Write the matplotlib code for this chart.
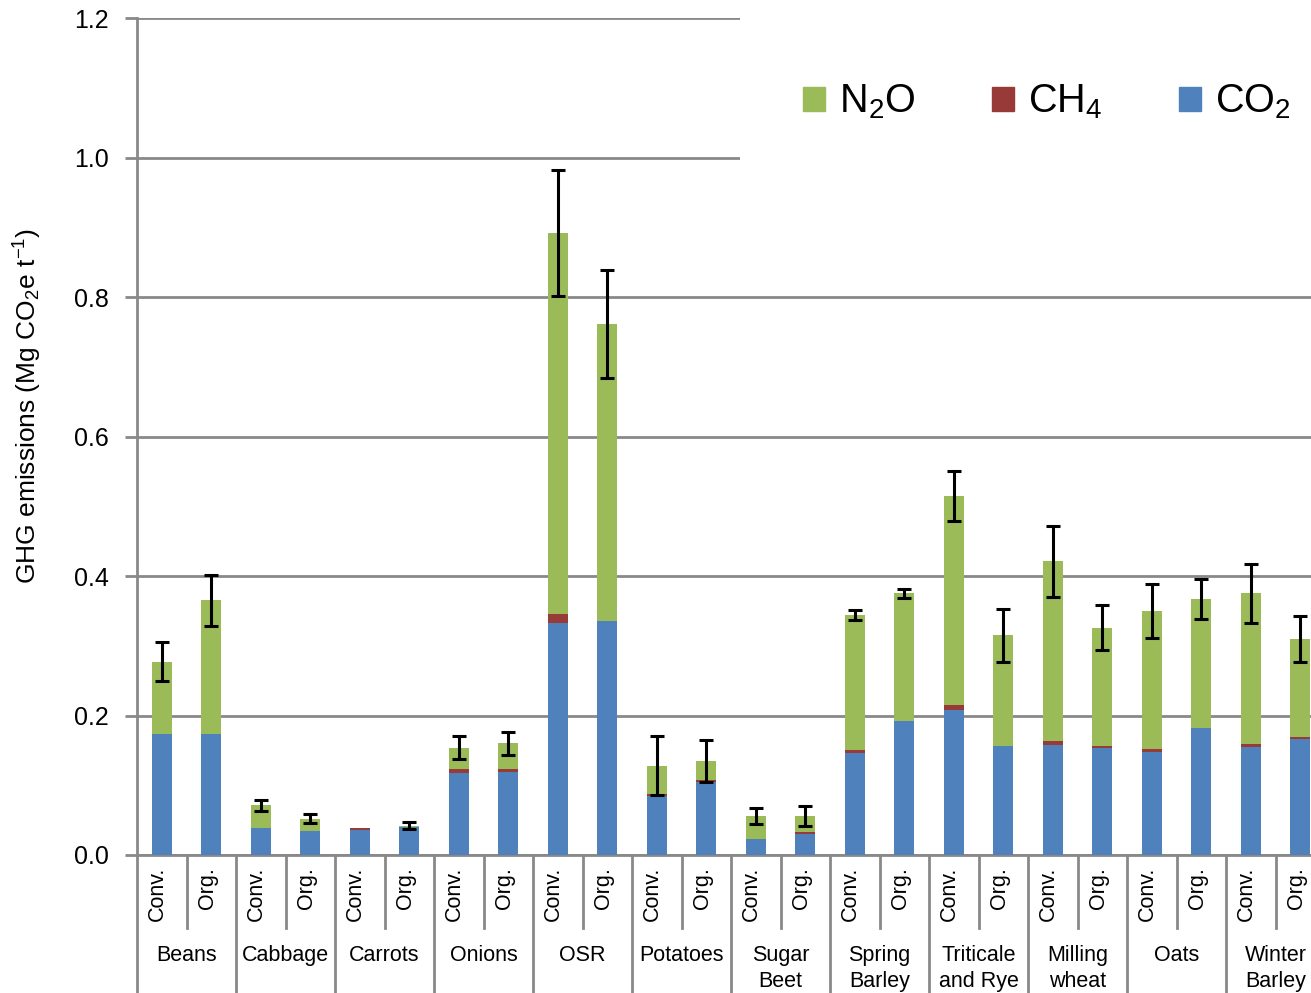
import matplotlib
matplotlib.use("Agg")
import matplotlib.pyplot as plt
import matplotlib.transforms as mtransforms
from matplotlib.patches import Patch, Rectangle
import numpy as np

plt.rcParams['font.family'] = ['Liberation Sans', 'DejaVu Sans']
plt.rcParams['mathtext.fontset'] = 'custom'
plt.rcParams['mathtext.rm'] = 'Liberation Sans'
plt.rcParams['mathtext.it'] = 'Liberation Sans:italic'
plt.rcParams['mathtext.bf'] = 'Liberation Sans:bold'

# crops, each with a conventional and an organic bar
crops = ["Beans", "Cabbage", "Carrots", "Onions", "OSR", "Potatoes",
         "Sugar\nBeet", "Spring\nBarley", "Triticale\nand Rye",
         "Milling\nwheat", "Oats", "Winter\nBarley"]
systems = ["Conv.", "Org."]

# Mg CO2e per tonne, ordered Conv./Org. for each crop
co2 = [0.173, 0.173, 0.039, 0.035, 0.036, 0.040, 0.117, 0.119,
       0.333, 0.336, 0.085, 0.104, 0.023, 0.030, 0.146, 0.192,
       0.208, 0.156, 0.158, 0.154, 0.148, 0.1825, 0.155, 0.166]
ch4 = [0.0, 0.0, 0.0, 0.0, 0.002, 0.0, 0.006, 0.004,
       0.013, 0.0, 0.003, 0.0035, 0.0, 0.003, 0.004, 0.0,
       0.007, 0.0, 0.005, 0.002, 0.0035, 0.0, 0.0045, 0.003]
n2o = [0.104, 0.192, 0.032, 0.017, 0.0, 0.002, 0.031, 0.037,
       0.546, 0.425, 0.040, 0.0275, 0.033, 0.023, 0.194, 0.183,
       0.300, 0.159, 0.258, 0.170, 0.1985, 0.1845, 0.2155, 0.140]
err = [0.028, 0.037, 0.008, 0.0065, 0.0, 0.005, 0.016, 0.017,
       0.090, 0.077, 0.042, 0.030, 0.012, 0.014, 0.007, 0.007,
       0.036, 0.038, 0.051, 0.032, 0.039, 0.028, 0.042, 0.033]

c_co2 = "#4F81BD"
c_ch4 = "#983A37"
c_n2o = "#9BBB59"
grey = "#898989"

co2 = np.array(co2)
ch4 = np.array(ch4)
n2o = np.array(n2o)
total = co2 + ch4 + n2o
x = np.arange(len(co2))

W, H = 1311, 993
fig = plt.figure(figsize=(W / 100, H / 100), dpi=100)
# plot area runs a little past the right edge of the figure
left, right, bottom, top = 137, 1325, 855, 18
ax = fig.add_axes([left / W, 1 - bottom / H, (right - left) / W, (bottom - top) / H])

bw = 0.4
ax.bar(x, co2, bw, color=c_co2, zorder=3)
ax.bar(x, ch4, bw, bottom=co2, color=c_ch4, zorder=3)
ax.bar(x, n2o, bw, bottom=co2 + ch4, color=c_n2o, zorder=3)
has_err = np.array(err) > 0
ax.errorbar(x[has_err], total[has_err], yerr=np.array(err)[has_err], fmt="none",
            ecolor="black", elinewidth=2.2, capsize=4.8, capthick=2.2, zorder=4)

ax.set_xlim(-0.5, len(co2) - 0.5)
ax.set_ylim(0, 1.2)
ax.set_yticks(np.arange(0, 1.21, 0.2))
ax.set_yticklabels([f"{v:.1f}" for v in np.arange(0, 1.21, 0.2)])
ax.set_xticks([])
ax.tick_params(axis="y", length=9, width=2, color=grey, labelsize=18, pad=11)
ax.yaxis.grid(True, color=grey, linewidth=2, zorder=0)
ax.set_axisbelow(True)
for s in ["top", "right"]:
    ax.spines[s].set_visible(False)
for s in ["left", "bottom"]:
    ax.spines[s].set_color(grey)
    ax.spines[s].set_linewidth(2)

# white panel behind the legend hides the upper grid lines
ax.add_patch(Rectangle((11.68, 0.9), 13, 0.4, facecolor="white", edgecolor="none",
                       zorder=1, clip_on=False))

# two-level category axis
trans = mtransforms.blended_transform_factory(ax.transData, ax.transAxes)
ax_h = bottom - top
short = -(928 - bottom) / ax_h
longer = -(H - bottom + 5) / ax_h
for i in range(len(crops) + 1):
    ax.plot([2 * i - 0.5] * 2, [0, longer], color=grey, lw=2,
            transform=trans, clip_on=False)
for i in range(len(crops)):
    ax.plot([2 * i + 0.5] * 2, [0, short], color=grey, lw=2,
            transform=trans, clip_on=False)
    for j, s in enumerate(systems):
        ax.text(2 * i + j - 0.08, -(867 - bottom) / ax_h, s, rotation=90,
                ha="center", va="top", fontsize=15.5, transform=trans)
    ax.text(2 * i + 0.5, -(945 - bottom) / ax_h, crops[i], ha="center",
            va="top", fontsize=15.5, linespacing=1.3, transform=trans)

fig.text(28 / W, 1 - 406 / H, r"GHG emissions (Mg CO$_2$e t$^{-1}$)",
         rotation=90, ha="center", va="center", fontsize=19)

handles = [Patch(color=c_n2o), Patch(color=c_ch4), Patch(color=c_co2)]
labels = [r"N$_2$O", r"CH$_4$", r"CO$_2$"]
fig.legend(handles, labels, loc="center left", ncol=3,
           bbox_to_anchor=(803 / W, 1 - 102 / H), frameon=False,
           fontsize=28.5, handlelength=0.55, handleheight=0.55,
           handletextpad=0.35, columnspacing=1.95, borderpad=0, borderaxespad=0)

fig.savefig("out.png", dpi=100)
